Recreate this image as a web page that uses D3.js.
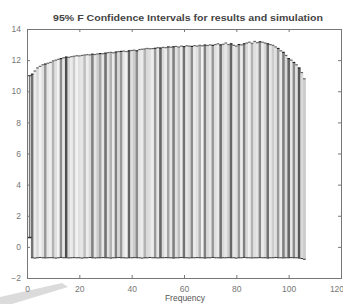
<!DOCTYPE html>
<html><head><meta charset="utf-8">
<script src="https://cdn.jsdelivr.net/npm/d3@7"></script>
<style>html,body{margin:0;padding:0;background:#fff;overflow:hidden}</style>
</head><body>
<svg id="c" width="343" height="304"></svg>
<script>
// ---- data ----
const title = "95% F Confidence Intervals for results and simulation";
const xLabel = "Frequency";
const xTicks = [0, 20, 40, 60, 80, 100, 120];
const yTicks = [-2, 0, 2, 4, 6, 8, 10, 12, 14];
// first isolated interval
const firstX = 1, firstLow = 0.6, firstHigh = 11.0;
// main intervals at x = 2..106
const freqs = d3.range(2, 107);
const upper = [11.1,11.3,11.5,11.6,11.7,11.75,11.8,11.85,11.95,12.0,
12.05,12.1,12.15,12.2,12.18,12.22,12.25,12.28,12.27,12.3,
12.33,12.35,12.34,12.38,12.36,12.4,12.42,12.41,12.45,12.48,
12.5,12.47,12.52,12.55,12.56,12.58,12.55,12.6,12.62,12.64,
12.6,12.68,12.7,12.72,12.75,12.73,12.74,12.76,12.8,12.78,
12.82,12.8,12.85,12.83,12.86,12.88,12.84,12.9,12.87,12.92,
12.9,12.88,12.93,12.9,12.95,12.92,12.97,12.94,12.98,12.95,
13.0,13.05,12.98,13.02,13.1,13.0,13.05,12.95,12.9,13.0,
12.98,13.05,13.1,13.15,13.08,13.2,13.12,13.18,13.15,13.1,
13.05,13.0,12.95,12.85,12.75,12.6,12.5,12.3,12.1,12.0,
11.85,11.7,11.5,11.2,10.8];
const lower = [-0.7,-0.72,-0.7,-0.68,-0.7,-0.71,-0.7,-0.69,-0.7,-0.72,
-0.7,-0.68,-0.7,-0.7,-0.71,-0.7,-0.69,-0.7,-0.7,-0.72,
-0.7,-0.7,-0.68,-0.7,-0.71,-0.7,-0.7,-0.69,-0.7,-0.7,
-0.72,-0.7,-0.7,-0.68,-0.7,-0.7,-0.71,-0.7,-0.7,-0.69,
-0.7,-0.7,-0.72,-0.7,-0.7,-0.68,-0.7,-0.7,-0.71,-0.7,
-0.7,-0.69,-0.7,-0.7,-0.72,-0.7,-0.7,-0.68,-0.7,-0.7,
-0.71,-0.7,-0.7,-0.69,-0.7,-0.7,-0.72,-0.7,-0.7,-0.68,
-0.7,-0.7,-0.71,-0.7,-0.7,-0.69,-0.7,-0.7,-0.72,-0.7,
-0.7,-0.68,-0.7,-0.7,-0.71,-0.7,-0.7,-0.69,-0.7,-0.7,
-0.72,-0.7,-0.7,-0.68,-0.7,-0.7,-0.71,-0.7,-0.7,-0.69,
-0.7,-0.7,-0.72,-0.75,-0.8];
// gray level of each interval (0 = black, 1 = white)
const shade = [0.45,0.92,0.85,0.95,0.88,0.6,0.9,0.93,0.7,0.88,
0.95,0.55,0.9,0.3,0.85,0.92,0.8,0.95,0.88,0.9,
0.75,0.93,0.85,0.5,0.9,0.8,0.65,0.9,0.45,0.88,
0.7,0.92,0.5,0.85,0.6,0.9,0.95,0.4,0.88,0.8,
0.55,0.9,0.92,0.7,0.85,0.88,0.93,0.6,0.9,0.4,
0.85,0.92,0.65,0.9,0.5,0.88,0.75,0.92,0.45,0.9,
0.85,0.55,0.92,0.88,0.7,0.95,0.5,0.85,0.9,0.6,
0.88,0.92,0.45,0.85,0.9,0.8,0.4,0.9,0.88,0.6,
0.92,0.5,0.85,0.93,0.7,0.88,0.9,0.55,0.92,0.85,
0.45,0.9,0.8,0.88,0.6,0.92,0.5,0.85,0.4,0.9,
0.55,0.88,0.35,0.85,0.8];

// ---- chart ----
const svg = d3.select("#c");
const x = d3.scaleLinear().domain([0, 120]).range([27, 341]);
const y = d3.scaleLinear().domain([-2, 14]).range([278, 29]);
const font = "'Liberation Sans', Arial, sans-serif";

// page-curl artifact bottom-left
svg.append("path")
  .attr("d", "M0,304 L0,297 L62,283 L68,287 L12,304 Z")
  .attr("fill", "#cfcfcf").attr("opacity", 0.75);

const data = freqs.map((f, i) => ({f, lo: lower[i], hi: upper[i], s: shade[i]}));
const g = svg.append("g");
const bw = x(1) - x(0);
g.selectAll("rect.bar").data(data).join("rect")
  .attr("class", "bar")
  .attr("x", d => x(d.f) - bw / 2)
  .attr("width", bw + 0.2)
  .attr("y", d => y(d.hi))
  .attr("height", d => y(d.lo) - y(d.hi))
  .attr("fill", d => d3.rgb(d.s * 255, d.s * 255, d.s * 255));
// top caps
g.selectAll("line.cap").data(data).join("line")
  .attr("x1", d => x(d.f) - bw / 2).attr("x2", d => x(d.f) + bw / 2)
  .attr("y1", d => y(d.hi)).attr("y2", d => y(d.hi))
  .attr("stroke", d => d.s < 0.7 ? "#222" : "#666").attr("stroke-width", 1.2);
// bottom caps
g.selectAll("line.bcap").data(data).join("line")
  .attr("x1", d => x(d.f) - bw / 2).attr("x2", d => x(d.f) + bw / 2)
  .attr("y1", d => y(d.lo)).attr("y2", d => y(d.lo))
  .attr("stroke", "#333").attr("stroke-width", 1);
// first interval
g.append("line")
  .attr("x1", x(firstX)).attr("x2", x(firstX))
  .attr("y1", y(firstLow)).attr("y2", y(firstHigh))
  .attr("stroke", "#777").attr("stroke-width", 1.5);
g.append("line")
  .attr("x1", x(firstX) - 2).attr("x2", x(firstX) + 2)
  .attr("y1", y(firstHigh)).attr("y2", y(firstHigh))
  .attr("stroke", "#333").attr("stroke-width", 1);
g.append("line")
  .attr("x1", x(firstX) - 2).attr("x2", x(firstX) + 2)
  .attr("y1", y(firstLow)).attr("y2", y(firstLow))
  .attr("stroke", "#333").attr("stroke-width", 1.5);

// axes
const axStroke = "#777";
const xb = svg.append("g").attr("transform", `translate(0,${y(-2)})`)
  .call(d3.axisBottom(x).tickValues(xTicks).tickSize(-3).tickPadding(8));
const xt = svg.append("g").attr("transform", `translate(0,${y(14)})`)
  .call(d3.axisTop(x).tickValues(xTicks).tickSize(-3).tickFormat(""));
const yl = svg.append("g").attr("transform", `translate(${x(0)},0)`)
  .call(d3.axisLeft(y).tickValues(yTicks).tickSize(-3).tickPadding(6));
const yr = svg.append("g").attr("transform", `translate(${x(120)},0)`)
  .call(d3.axisRight(y).tickValues(yTicks).tickSize(-3).tickFormat(""));
[xb, xt, yl, yr].forEach(a => {
  a.select(".domain").attr("stroke", axStroke);
  a.selectAll(".tick line").attr("stroke", axStroke);
  a.selectAll("text").attr("fill", "#777").attr("font-family", font).attr("font-size", 8.5);
});
// keep the last x tick label inside the picture
xb.selectAll(".tick text").filter(d => d === 120)
  .attr("text-anchor", "end").attr("dx", "0.3em");

// title
svg.append("text").attr("x", 188).attr("y", 21).attr("text-anchor", "middle")
  .attr("font-family", font).attr("font-size", 9).attr("font-weight", "bold")
  .attr("textLength", 270).attr("lengthAdjust", "spacingAndGlyphs")
  .attr("fill", "#444").text(title);
// x label
svg.append("text").attr("x", 185).attr("y", 301).attr("text-anchor", "middle")
  .attr("font-family", font).attr("font-size", 8.5).attr("fill", "#555").text(xLabel);
</script>
</body></html>
